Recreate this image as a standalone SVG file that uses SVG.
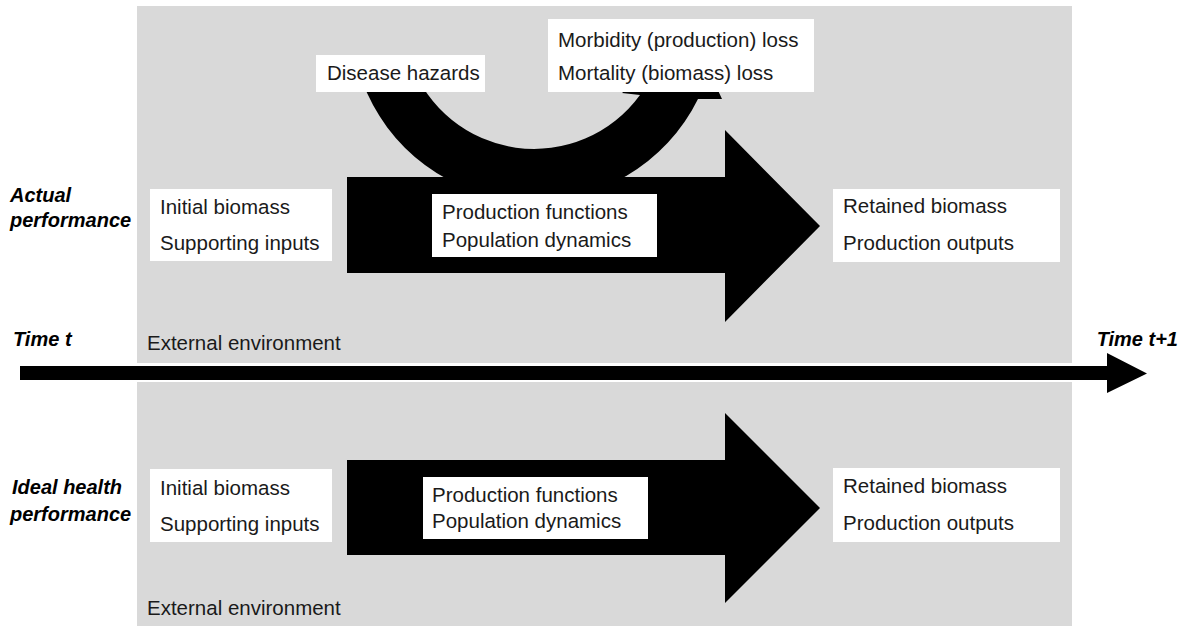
<svg xmlns="http://www.w3.org/2000/svg" width="1184" height="630" viewBox="0 0 1184 630">
  <style>
    .panel { fill: #d9d9d9; }
    .box { fill: #ffffff; }
    .arrow { fill: #000000; }
    .txt { font-family: "Liberation Sans", Arial, sans-serif; font-size: 20.5px; fill: #1a1a1a; }
    .lbl { font-family: "Liberation Sans", Arial, sans-serif; font-size: 20px; font-weight: bold; font-style: italic; fill: #000000; }
  </style>

  <rect width="1184" height="630" fill="#ffffff"/>

  <!-- environment panels -->
  <g id="panel-actual">
    <rect class="panel" x="137" y="6" width="935" height="357"/>
  </g>
  <g id="panel-ideal">
    <rect class="panel" x="137" y="382" width="935" height="244"/>
  </g>

  <!-- arrows -->
  <g id="connectors">
    <!-- time axis -->
    <path class="arrow" d="M 20 366 L 1107 366 L 1107 353 L 1147 373.5 L 1107 393 L 1107 380 L 20 380 Z"/>
    <!-- process arrow, actual performance -->
    <path class="arrow" d="M 347 177 L 725 177 L 725 130 L 820 226 L 725 322 L 725 273 L 347 273 Z"/>
    <!-- disease loop -->
    <path class="arrow" d="M 362 80.6 A 183 183 0 0 0 698 99 L 722 99 L 690 30 L 622 93 L 640 95 A 131 131 0 0 1 411 62.8 Z"/>
    <!-- process arrow, ideal health -->
    <path class="arrow" d="M 347 460 L 725 460 L 725 413 L 820 508 L 725 603 L 725 555 L 347 555 Z"/>
  </g>

  <!-- row labels -->
  <g id="label-actual">
    <text class="lbl" x="10" y="202">Actual</text>
    <text class="lbl" x="10" y="227">performance</text>
  </g>
  <g id="label-ideal">
    <text class="lbl" x="12" y="494">Ideal health</text>
    <text class="lbl" x="10" y="521">performance</text>
  </g>
  <g id="label-time-start">
    <text class="lbl" x="13" y="346">Time t</text>
  </g>
  <g id="label-time-end">
    <text class="lbl" x="1178" y="346" text-anchor="end">Time t+1</text>
  </g>

  <!-- actual performance row -->
  <g id="disease-hazards">
    <rect class="box" x="316" y="55" width="169" height="37"/>
    <text class="txt" x="327" y="80">Disease hazards</text>
  </g>
  <g id="losses">
    <rect class="box" x="548" y="19" width="266" height="73"/>
    <text class="txt" x="558" y="47">Morbidity (production) loss</text>
    <text class="txt" x="558" y="80">Mortality (biomass) loss</text>
  </g>
  <g id="inputs-actual">
    <rect class="box" x="150" y="189" width="182" height="72"/>
    <text class="txt" x="160" y="214">Initial biomass</text>
    <text class="txt" x="160" y="250">Supporting inputs</text>
  </g>
  <g id="process-actual">
    <rect class="box" x="432" y="194" width="225" height="63"/>
    <text class="txt" x="442" y="219">Production functions</text>
    <text class="txt" x="442" y="247">Population dynamics</text>
  </g>
  <g id="outputs-actual">
    <rect class="box" x="833" y="189" width="227" height="73"/>
    <text class="txt" x="843" y="213">Retained biomass</text>
    <text class="txt" x="843" y="250">Production outputs</text>
  </g>
  <g id="environment-actual">
    <text class="txt" x="147" y="350">External environment</text>
  </g>

  <!-- ideal health row -->
  <g id="inputs-ideal">
    <rect class="box" x="150" y="469" width="182" height="73"/>
    <text class="txt" x="160" y="495">Initial biomass</text>
    <text class="txt" x="160" y="531">Supporting inputs</text>
  </g>
  <g id="process-ideal">
    <rect class="box" x="423" y="477" width="225" height="62"/>
    <text class="txt" x="432" y="502">Production functions</text>
    <text class="txt" x="432" y="528">Population dynamics</text>
  </g>
  <g id="outputs-ideal">
    <rect class="box" x="833" y="468" width="227" height="74"/>
    <text class="txt" x="843" y="493">Retained biomass</text>
    <text class="txt" x="843" y="530">Production outputs</text>
  </g>
  <g id="environment-ideal">
    <text class="txt" x="147" y="615">External environment</text>
  </g>
</svg>
